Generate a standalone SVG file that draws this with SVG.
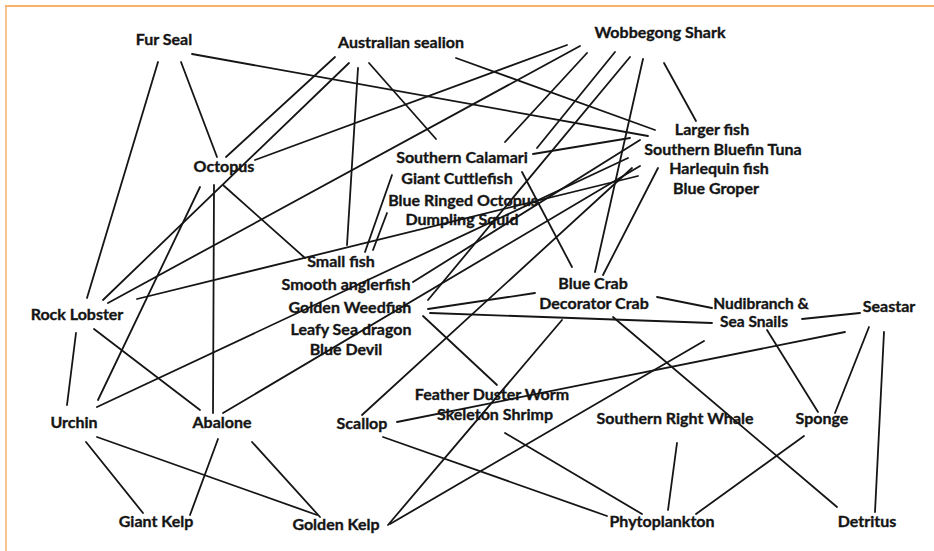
<svg xmlns="http://www.w3.org/2000/svg" width="934" height="551" viewBox="0 0 934 551">
<style>
text{font-family:Lato,"Open Sans","Liberation Sans",sans-serif;font-weight:700;font-size:16px;fill:#151515;stroke:#151515;stroke-width:0.35;text-anchor:middle}
#nudibranch-sea-snails text{font-size:15.5px}
#connectors line{stroke:#151515;stroke-width:1.8;stroke-linecap:round}
</style>
<rect width="934" height="551" fill="#ffffff"/>
<line x1="5" y1="6" x2="934" y2="6" stroke="#f7963a" stroke-width="1.6"/>
<line x1="6" y1="6" x2="6" y2="551" stroke="#f8b57c" stroke-width="1.6"/>
<g id="connectors">
<line x1="158" y1="62" x2="87" y2="298"/>
<line x1="181" y1="62" x2="217" y2="157"/>
<line x1="192" y1="54" x2="648" y2="136"/>
<line x1="335" y1="57" x2="226" y2="157"/>
<line x1="349" y1="63" x2="103" y2="300"/>
<line x1="358" y1="68" x2="347" y2="245"/>
<line x1="369" y1="63" x2="436" y2="139"/>
<line x1="456" y1="58" x2="655" y2="130"/>
<line x1="567" y1="45" x2="255" y2="160"/>
<line x1="580" y1="46" x2="108" y2="303"/>
<line x1="587" y1="53" x2="505" y2="142"/>
<line x1="615" y1="52" x2="537" y2="148"/>
<line x1="630" y1="57" x2="428" y2="300"/>
<line x1="643" y1="59" x2="595" y2="272"/>
<line x1="664" y1="63" x2="696" y2="121"/>
<line x1="533" y1="154" x2="630" y2="138"/>
<line x1="413" y1="282" x2="640" y2="140"/>
<line x1="97" y1="407" x2="628" y2="158"/>
<line x1="223" y1="413" x2="640" y2="166"/>
<line x1="362" y1="415" x2="632" y2="168"/>
<line x1="137" y1="299" x2="638" y2="176"/>
<line x1="658" y1="168" x2="603" y2="275"/>
<line x1="522" y1="172" x2="572" y2="267"/>
<line x1="428" y1="309" x2="535" y2="293"/>
<line x1="430" y1="313" x2="712" y2="323"/>
<line x1="423" y1="316" x2="497" y2="385"/>
<line x1="657" y1="297" x2="712" y2="308"/>
<line x1="613" y1="317" x2="837" y2="507"/>
<line x1="562" y1="320" x2="388" y2="525"/>
<line x1="390" y1="524" x2="704" y2="341"/>
<line x1="397" y1="422" x2="845" y2="332"/>
<line x1="383" y1="437" x2="607" y2="516"/>
<line x1="505" y1="433" x2="642" y2="514"/>
<line x1="677" y1="443" x2="668" y2="510"/>
<line x1="804" y1="436" x2="696" y2="514"/>
<line x1="869" y1="327" x2="835" y2="413"/>
<line x1="884" y1="332" x2="875" y2="512"/>
<line x1="767" y1="330" x2="818" y2="412"/>
<line x1="802" y1="319" x2="860" y2="313"/>
<line x1="223" y1="185" x2="305" y2="258"/>
<line x1="214" y1="185" x2="213" y2="413"/>
<line x1="200" y1="187" x2="98" y2="400"/>
<line x1="76" y1="333" x2="67" y2="405"/>
<line x1="94" y1="329" x2="200" y2="410"/>
<line x1="86" y1="442" x2="143" y2="513"/>
<line x1="97" y1="437" x2="317" y2="515"/>
<line x1="218" y1="439" x2="190" y2="515"/>
<line x1="252" y1="442" x2="320" y2="517"/>
<line x1="392" y1="175" x2="365" y2="252"/>
<line x1="387" y1="213" x2="373" y2="250"/>
</g>
<g id="fur-seal"><text x="164" y="45">Fur Seal</text></g>
<g id="australian-sealion"><text x="401" y="48">Australian sealion</text></g>
<g id="wobbegong-shark"><text x="660" y="38">Wobbegong Shark</text></g>
<g id="larger-fish"><text x="712" y="135">Larger fish</text></g>
<g id="southern-bluefin-tuna"><text x="723" y="155">Southern Bluefin Tuna</text></g>
<g id="harlequin-fish"><text x="719" y="174">Harlequin fish</text></g>
<g id="blue-groper"><text x="716" y="194">Blue Groper</text></g>
<g id="octopus"><text x="224" y="172">Octopus</text></g>
<g id="southern-calamari"><text x="462" y="163">Southern Calamari</text></g>
<g id="giant-cuttlefish"><text x="457" y="184">Giant Cuttlefish</text></g>
<g id="blue-ringed-octopus"><text x="463" y="206">Blue Ringed Octopus</text></g>
<g id="dumpling-squid"><text x="462" y="225">Dumpling Squid</text></g>
<g id="small-fish"><text x="341" y="267">Small fish</text></g>
<g id="smooth-anglerfish"><text x="346" y="290">Smooth anglerfish</text></g>
<g id="golden-weedfish"><text x="350" y="313">Golden Weedfish</text></g>
<g id="leafy-sea-dragon"><text x="351" y="335">Leafy Sea dragon</text></g>
<g id="blue-devil"><text x="346" y="355">Blue Devil</text></g>
<g id="rock-lobster"><text x="77" y="320">Rock Lobster</text></g>
<g id="urchin"><text x="74" y="428">Urchin</text></g>
<g id="abalone"><text x="222" y="428">Abalone</text></g>
<g id="giant-kelp"><text x="156" y="527">Giant Kelp</text></g>
<g id="golden-kelp"><text x="336" y="530">Golden Kelp</text></g>
<g id="scallop"><text x="362" y="429">Scallop</text></g>
<g id="feather-duster-worm"><text x="492" y="400">Feather Duster Worm</text></g>
<g id="skeleton-shrimp"><text x="495" y="420">Skeleton Shrimp</text></g>
<g id="southern-right-whale"><text x="675" y="424">Southern Right Whale</text></g>
<g id="sponge"><text x="822" y="424">Sponge</text></g>
<g id="phytoplankton"><text x="662" y="527">Phytoplankton</text></g>
<g id="detritus"><text x="867" y="527">Detritus</text></g>
<g id="blue-crab"><text x="593" y="289">Blue Crab</text></g>
<g id="decorator-crab"><text x="594" y="309">Decorator Crab</text></g>
<g id="nudibranch-sea-snails"><text x="761" y="309">Nudibranch &amp;</text><text x="754" y="327">Sea Snails</text></g>
<g id="seastar"><text x="889" y="312">Seastar</text></g>
</svg>
